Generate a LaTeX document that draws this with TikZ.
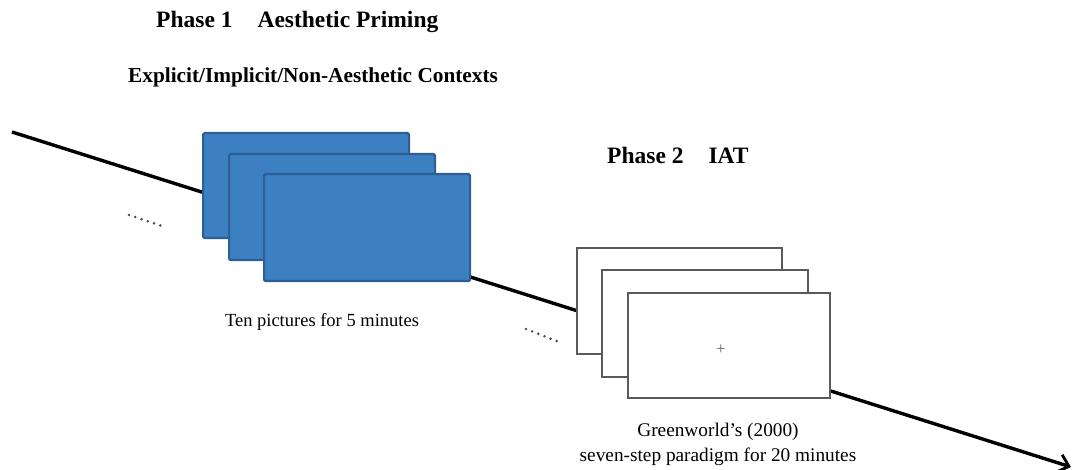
\documentclass[tikz,border=0pt]{standalone}
\usepackage{fontspec}
\setmainfont{Liberation Serif}
\usetikzlibrary{arrows.meta}
\definecolor{cardblue}{HTML}{3D80C2}
\definecolor{cardedge}{HTML}{2B5F96}
\definecolor{cardgray}{HTML}{5A5A5A}
\tikzset{
  bluecard/.style={draw=cardedge, line width=2.2pt, fill=cardblue, rounded corners=1.5pt, anchor=north west, inner sep=0pt},
  whitecard/.style={draw=cardgray, line width=2pt, fill=white, anchor=north west, inner sep=0pt},
  timeline/.style={line width=3.4pt, black, -{Straight Barb[length=10pt,width=18pt,line width=2.8pt]}},
  title/.style={font=\fontsize{23.5}{27}\selectfont\bfseries, anchor=west, inner sep=0pt},
  subtitle/.style={font=\fontsize{21.3}{25}\selectfont\bfseries, anchor=west, inner sep=0pt},
  caption/.style={font=\fontsize{18.5}{22}\selectfont, inner sep=0pt},
  dotrow/.style={line width=2.8pt, line cap=round, black!70, dash pattern=on 0pt off 6.6pt}
}
\begin{document}
\begin{tikzpicture}[x=1pt,y=-1pt]
\useasboundingbox (0,0) rectangle (1074,470);
% timeline
\coordinate (start) at (12,132);
\coordinate (end) at (1071,467);
\draw[timeline] (start) -- (end);
% blue cards
\node[bluecard, minimum width=206pt, minimum height=105pt] (b1) at (202,132) {};
\node[bluecard, minimum width=206pt, minimum height=106pt] (b2) at (228,153) {};
\node[bluecard, minimum width=206pt, minimum height=107pt] (b3) at (263,173) {};
% white cards
\node[whitecard, minimum width=205pt, minimum height=106pt] (w1) at (576,247) {};
\node[whitecard, minimum width=206pt, minimum height=107pt] (w2) at (601,269) {};
\node[whitecard, minimum width=202pt, minimum height=105pt] (w3) at (627,292) {};
\node[font=\fontsize{17}{17}\selectfont, text=black!60, inner sep=0pt] (plus) at ([shift={(94,58)}]w3.north west) {+};
% dots
\coordinate (d1a) at (129,215);
\coordinate (d1b) at (162,226);
\draw[dotrow] (d1a) -- (d1b);
\coordinate (d2a) at (526,329);
\coordinate (d2b) at (559,342);
\draw[dotrow] (d2a) -- (d2b);
% texts
\node[title] (ph1) at (156,22) {Phase 1\hspace{25pt}Aesthetic Priming};
\node[subtitle] (ctx) at (128,77) {Explicit/Implicit/Non-Aesthetic Contexts};
\node[title] (ph2) at (607,155) {Phase 2\hspace{25pt}IAT};
\node[caption] (cap1) at (322,322) {Ten pictures for 5 minutes};
\node[caption, align=center, font=\fontsize{19.3}{25}\selectfont] (cap2) at (718,444) {Greenworld's (2000)\\seven-step paradigm for 20 minutes};
\end{tikzpicture}
\end{document}
